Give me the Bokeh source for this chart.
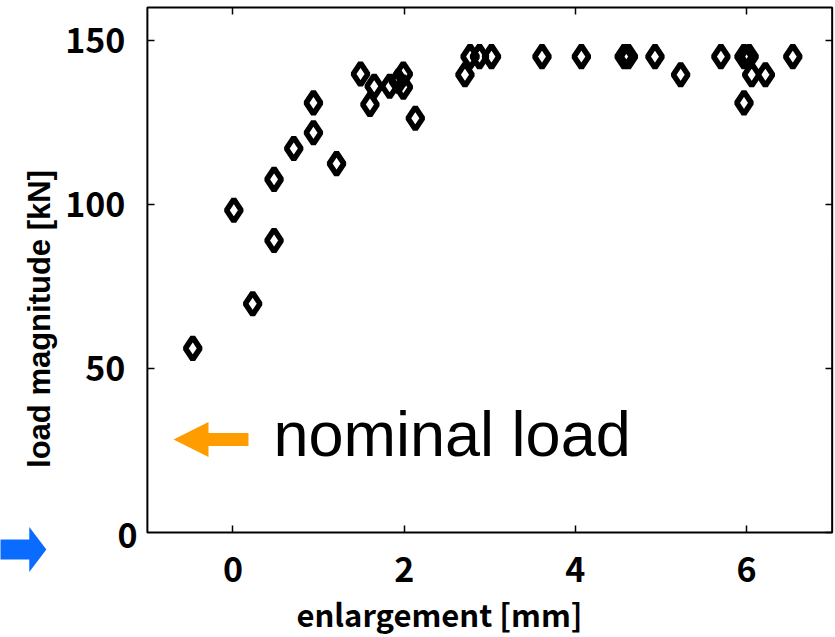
from bokeh.plotting import figure
from bokeh.models import LinearAxis, Range1d, Label, PolyAnnotation, BoxAnnotation, FixedTicker, ColumnDataSource
from bokeh.embed import file_html
from bokeh.resources import INLINE

# ---- data ----
enlargement_mm = [-0.47, 0.01, 0.23, 0.48, 0.48, 0.71, 0.94, 0.94, 1.21, 1.49,
                  1.60, 1.65, 1.83, 1.93, 1.99, 1.99, 2.13, 2.71, 2.77, 2.88,
                  3.02, 3.61, 4.07, 4.57, 4.62, 4.93, 5.23, 5.70, 5.97, 6.03,
                  5.97, 6.06, 6.22, 6.54]
load_kN = [56.1, 98.2, 69.7, 107.6, 89.0, 117.0, 130.9, 121.8, 112.4, 139.7,
           130.4, 136.0, 136.0, 137.5, 139.7, 135.7, 126.2, 139.5, 145.0, 145.0,
           145.0, 145.0, 145.0, 145.0, 145.0, 145.0, 139.5, 145.0, 145.0, 145.0,
           130.9, 139.5, 139.5, 145.0]
x_ticks = [0, 2, 4, 6]
y_ticks = [0, 50, 100, 150]
x_box = (-1, 7)          # plotted box in data units
y_box = (0, 160)
x_title = "enlargement [mm]"
y_title = "load magnitude [kN]"
note_text = "nominal load"

# annotation arrows (data units)
orange_arrow_x = [-0.695, -0.286, -0.286, 0.181, 0.181, -0.286, -0.286]
orange_arrow_y = [28.35, 33.68, 30.33, 30.33, 26.37, 26.37, 23.02]
blue_arrow_x = [-2.18, -2.38, -2.38, -2.80, -2.80, -2.38, -2.38]
blue_arrow_y = [-5.18, 1.68, -2.13, -2.13, -8.23, -8.23, -12.04]
note_pos = (0.473, 29.9)
zero_label_pos = (-1.116, -1.0)

tick_font = "Noto Sans CJK JP"
src = ColumnDataSource(dict(x=enlargement_mm, y=load_kN))

p = figure(width=835, height=637, output_backend="svg", toolbar_location=None,
           x_range=Range1d(-2.716, 7.039), y_range=Range1d(-32.0, 162.1),
           min_border=0, x_axis_location="below", y_axis_location="left")
p.grid.visible = False
p.outline_line_color = None
p.background_fill_color = "white"
p.border_fill_color = "white"

xa = p.xaxis[0]
ya = p.yaxis[0]
xa.fixed_location = y_box[0]
ya.fixed_location = x_box[0]
xa.bounds = (-1.2, 6.02)

for ax in (xa, ya):
    ax.major_tick_in = 7
    ax.major_tick_out = 0
    ax.minor_tick_in = 0
    ax.minor_tick_out = 0
    ax.axis_line_color = None
    ax.major_tick_line_width = 1.5
    ax.major_label_text_font = tick_font
    ax.major_label_text_font_style = "bold"
    ax.major_label_text_font_size = "34px"
    ax.major_label_text_color = "black"

xa.ticker = FixedTicker(ticks=x_ticks)
ya.ticker = FixedTicker(ticks=[t for t in y_ticks if t != 0])
xa.major_label_standoff = 25
ya.major_label_standoff = 22
xa.axis_label = x_title
xa.axis_label_text_font = tick_font
xa.axis_label_text_font_style = "bold"
xa.axis_label_text_font_size = "31px"
xa.axis_label_text_color = "black"
xa.axis_label_standoff = 5
ya.axis_label = y_title
ya.axis_label_text_font = "Liberation Sans"
ya.axis_label_text_font_style = "bold"
ya.axis_label_text_font_size = "31px"
ya.axis_label_text_color = "black"
ya.axis_label_standoff = 5

top = LinearAxis(ticker=FixedTicker(ticks=x_ticks), fixed_location=y_box[1],
                 major_label_text_color=None, axis_line_color=None,
                 major_tick_in=7, major_tick_out=0, minor_tick_in=0, minor_tick_out=0,
                 major_tick_line_width=1.5)
right = LinearAxis(ticker=FixedTicker(ticks=y_ticks), fixed_location=x_box[1],
                   major_label_text_color=None, axis_line_color=None,
                   major_tick_in=7, major_tick_out=0, minor_tick_in=0, minor_tick_out=0,
                   major_tick_line_width=1.5)
p.add_layout(top, "above")
p.add_layout(right, "right")

p.add_layout(BoxAnnotation(left=x_box[0], right=x_box[1], bottom=y_box[0], top=y_box[1],
                           fill_color=None, fill_alpha=0, line_color="black",
                           line_alpha=1, line_width=2))

p.scatter("x", "y", source=src, marker="diamond", size=22, fill_color=None,
          line_color="black", line_width=5.5)

p.add_layout(PolyAnnotation(xs=orange_arrow_x, ys=orange_arrow_y, fill_color="#FF9C00",
                            fill_alpha=1, line_color=None))
p.add_layout(PolyAnnotation(xs=blue_arrow_x, ys=blue_arrow_y, fill_color="#0A6CFF",
                            fill_alpha=1, line_color=None))
p.add_layout(Label(x=note_pos[0], y=note_pos[1], text=note_text, text_font="Liberation Sans",
                   text_font_size="63px", text_baseline="alphabetic", text_color="black"))
p.add_layout(Label(x=zero_label_pos[0], y=zero_label_pos[1], text=str(y_ticks[0]),
                   text_font=tick_font, text_font_style="bold", text_font_size="34px",
                   text_align="right", text_baseline="middle", text_color="black"))

open("out.html", "w").write(file_html(p, INLINE))
